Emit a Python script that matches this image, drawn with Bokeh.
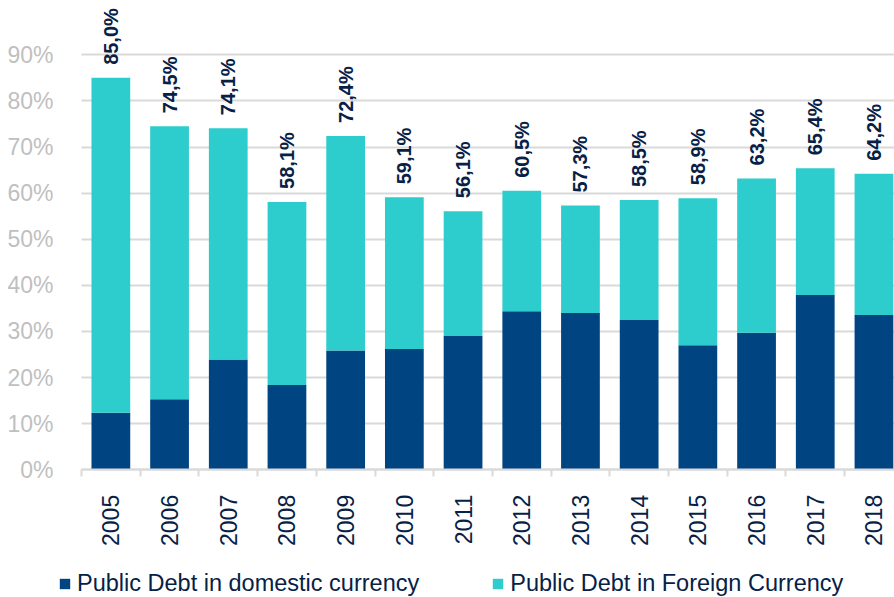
import math
from bokeh.plotting import figure
from bokeh.models import ColumnDataSource, FixedTicker, Range1d, Legend, LegendItem
from bokeh.core.properties import value
from bokeh.embed import file_html
from bokeh.resources import INLINE

years = ["2005", "2006", "2007", "2008", "2009", "2010", "2011",
         "2012", "2013", "2014", "2015", "2016", "2017", "2018"]
totals = [85.0, 74.5, 74.1, 58.1, 72.4, 59.1, 56.1,
          60.5, 57.3, 58.5, 58.9, 63.2, 65.4, 64.2]
domestic = [12.4, 15.3, 23.9, 18.4, 25.9, 26.2, 29.0,
            34.4, 34.0, 32.5, 27.0, 29.7, 37.9, 33.6]
foreign = [round(t - d, 1) for t, d in zip(totals, domestic)]
total_labels = [f"{t:.1f}".replace(".", ",") + "%" for t in totals]
y_ticks = [0, 10, 20, 30, 40, 50, 60, 70, 80, 90]

DARK = "#004481"
CYAN = "#2DCCCD"
NAVY = "#072146"
GRAY = "#BFBFBF"
GRID = "#D9D9D9"
FONT = "Liberation Sans"

X_START, X_LEFT, X_END = -1.88, -0.5, 13.35
Y_START, Y_END = -27.69, 101.78

xs = list(range(len(years)))
src = ColumnDataSource(dict(
    x=xs, top_dom=domestic,
    top_tot=[d + f for d, f in zip(domestic, foreign)],
    totals=totals, label=total_labels,
))

p = figure(width=894, height=597, output_backend="svg", toolbar_location=None,
           x_range=Range1d(X_START, X_END), y_range=Range1d(Y_START, Y_END),
           min_border_left=0, min_border_right=0, min_border_top=0,
           min_border_bottom=0)
p.outline_line_color = None
p.background_fill_color = "white"
p.border_fill_color = "white"

r_dom = p.vbar(x="x", bottom=0, top="top_dom", width=0.66, source=src,
               fill_color=DARK, line_color=None)
r_for = p.vbar(x="x", bottom="top_dom", top="top_tot", width=0.66, source=src,
               fill_color=CYAN, line_color=None)

p.text(x="x", y="totals", text="label", source=src, angle=math.pi / 2,
       y_offset=-13, text_align="left", text_baseline="middle",
       text_font=value(FONT), text_font_style="bold", text_font_size="20px",
       text_color=NAVY)

# y axis (drawn at the category boundary left of 2005)
p.yaxis.fixed_location = X_LEFT
p.yaxis.ticker = FixedTicker(ticks=y_ticks)
p.yaxis.major_label_overrides = {t: f"{t}%" for t in y_ticks}
p.yaxis.axis_line_color = None
p.yaxis.major_tick_line_color = None
p.yaxis.minor_tick_line_color = None
p.yaxis.major_label_standoff = 22
p.yaxis.major_label_text_font = FONT
p.yaxis.major_label_text_font_size = "23px"
p.yaxis.major_label_text_color = GRAY

# x axis (drawn at y = 0)
p.xaxis.fixed_location = 0
p.xaxis.bounds = (X_LEFT, X_END)
p.xaxis.ticker = FixedTicker(ticks=xs, minor_ticks=[i - 0.5 for i in range(len(years) + 1)])
p.xaxis.major_label_overrides = {i: y for i, y in enumerate(years)}
p.xaxis.major_label_orientation = math.pi / 2
p.xaxis.axis_line_color = GRID
p.xaxis.axis_line_width = 2
p.xaxis.major_tick_line_color = None
p.xaxis.major_tick_out = 0
p.xaxis.major_tick_in = 0
p.xaxis.minor_tick_line_color = GRID
p.xaxis.minor_tick_line_width = 2
p.xaxis.minor_tick_out = 7
p.xaxis.minor_tick_in = 0
p.xaxis.major_label_standoff = 18
p.xaxis.major_label_text_font = FONT
p.xaxis.major_label_text_font_size = "23px"
p.xaxis.major_label_text_color = NAVY

p.xgrid.grid_line_color = None
p.ygrid.ticker = FixedTicker(ticks=y_ticks)
p.ygrid.grid_line_color = GRID
p.ygrid.grid_line_width = 2
try:
    p.ygrid.cross_bounds = (X_LEFT, X_END)
except Exception:
    pass

legend = Legend(
    items=[LegendItem(label="Public Debt in domestic currency", renderers=[r_dom]),
           LegendItem(label="Public Debt in Foreign Currency", renderers=[r_for])],
    location=(58, 0), orientation="horizontal",
    glyph_width=13, glyph_height=13, label_standoff=6, spacing=72,
    padding=0, margin=0, border_line_color=None, background_fill_alpha=0,
    label_text_font=FONT, label_text_font_size="23.5px",
    label_text_color=NAVY, label_text_baseline="middle")
p.add_layout(legend, "center")

open("out.html", "w").write(file_html(p, INLINE))
